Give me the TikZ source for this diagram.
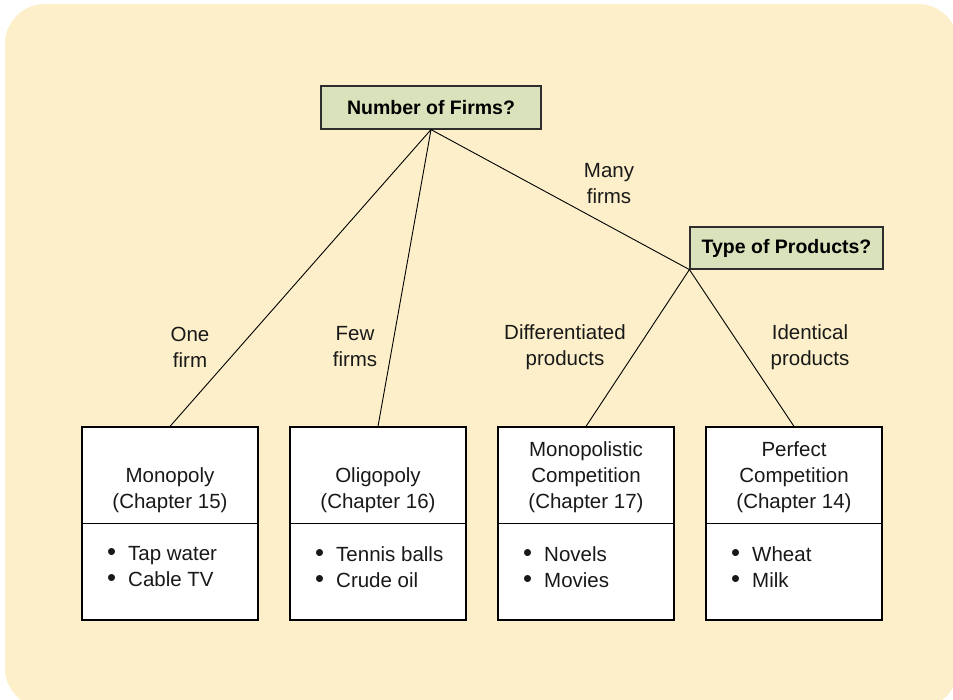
\documentclass[tikz,border=0pt]{standalone}
\usepackage{fontspec}
\setmainfont{Liberation Sans}
\definecolor{bgc}{HTML}{FCEFC9}
\definecolor{hdrfill}{HTML}{D9E2BA}
\definecolor{edge}{HTML}{2E2E2E}
\tikzset{
  txt/.style={font=\fontsize{20.5}{26}\selectfont, align=center, inner sep=0pt, text=black!90},
  hdr/.style={draw=edge, line width=1.2pt, fill=hdrfill, inner sep=0pt, font=\fontsize{19.5}{24}\selectfont\bfseries},
  outbox/.style={draw=black, line width=1.2pt, fill=white, minimum width=176pt, minimum height=193pt, inner sep=0pt},
  conn/.style={draw=black, line width=0.9pt},
  blist/.style={font=\fontsize{20.5}{26}\selectfont, align=left, inner sep=0pt, anchor=west, text=black!90}
}
\newcommand{\bitem}[1]{\makebox[21pt][l]{\scalebox{1.25}{\textbullet}}#1}
\begin{document}
\begin{tikzpicture}[x=1pt,y=-1pt]
\useasboundingbox (0,0) rectangle (953,700);
\begin{scope}
\clip (0,0) rectangle (953,700);
\fill[bgc, rounded corners=40pt] (5,4) rectangle (958,708);
\end{scope}

% header nodes
\node[hdr, minimum width=220pt, minimum height=43pt] (nf) at (431,107.5) {Number of Firms?};
\node[hdr, minimum width=193pt, minimum height=42pt] (tp) at (786.5,248) {Type of Products?};

% bottom boxes
\node[outbox] (b1) at (170,523.5) {};
\node[outbox] (b2) at (378,523.5) {};
\node[outbox] (b3) at (586,523.5) {};
\node[outbox] (b4) at (794,523.5) {};
\foreach \b in {b1,b2,b3,b4} { \draw[line width=1.2pt] (\b.west) -- (\b.east); }

% connectors
\draw[conn] (nf.south) -- (b1.north);
\draw[conn] (nf.south) -- (b2.north);
\draw[conn] (nf.south) -- (tp.south west);
\draw[conn] (tp.south west) -- (b3.north);
\draw[conn] (tp.south west) -- (b4.north);

% branch labels
\node[txt] (l1) at (190,347) {One\\firm};
\node[txt] (l2) at (355,347) {Few\\firms};
\node[txt] (l3) at (609,184) {Many\\firms};
\node[txt] (l4) at (565,347) {Differentiated\\products};
\node[txt] (l5) at (810,347) {Identical\\products};

% box titles
\node[txt] (t1) at (170,490) {Monopoly\\(Chapter 15)};
\node[txt] (t2) at (378,490) {Oligopoly\\(Chapter 16)};
\node[txt] (t3) at (586,477) {Monopolistic\\Competition\\(Chapter 17)};
\node[txt] (t4) at (794,477) {Perfect\\Competition\\(Chapter 14)};

% lists
\node[blist] (i1) at (107,567) {\bitem{Tap water}\\\bitem{Cable TV}};
\node[blist] (i2) at (315,567) {\bitem{Tennis balls}\\\bitem{Crude oil}};
\node[blist] (i3) at (523,567) {\bitem{Novels}\\\bitem{Movies}};
\node[blist] (i4) at (731,567) {\bitem{Wheat}\\\bitem{Milk}};
\end{tikzpicture}
\end{document}
